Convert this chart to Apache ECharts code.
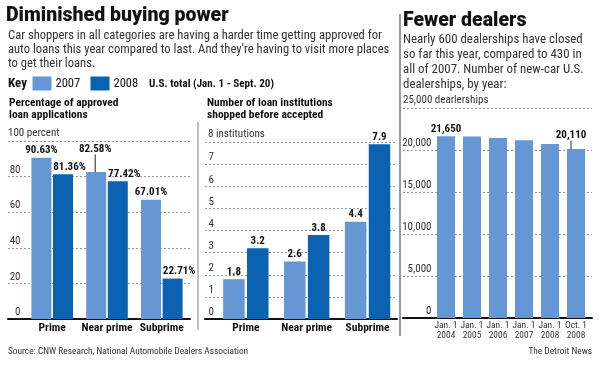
<!DOCTYPE html>
<html><head><meta charset="utf-8">
<script src="https://cdn.jsdelivr.net/npm/echarts/dist/echarts.min.js"></script>
<style>html,body{margin:0;padding:0;background:#fff}#c{width:600px;height:369px}</style>
</head><body><div id="c"></div>
<script>
// ---- data ----
const categories = ['Prime', 'Near prime', 'Subprime'];
const approval2007 = [90.63, 82.58, 67.01];
const approval2008 = [81.36, 77.42, 22.71];
const shopped2007 = [1.8, 2.6, 4.4];
const shopped2008 = [3.2, 3.8, 7.9];
const dealerDates = ['Jan. 1\n2004', 'Jan. 1\n2005', 'Jan. 1\n2006', 'Jan. 1\n2007', 'Jan. 1\n2008', 'Oct. 1\n2008'];
const dealerCounts = [21650, 21600, 21420, 21150, 20720, 20110];
const dealerLabelledIdx = [0, 5];
const seriesNames = ['2007', '2008'];
const axisTopLabels = ['100 percent', '8 institutions', '25,000 dearlerships'];
const axisMax = [100, 8, 25000];
const axisStep = [20, 1, 5000];

// ---- style ----
const NARROW = "'Liberation Sans Narrow', 'Roboto Condensed', 'Roboto', sans-serif";
const HEAVY = "'Roboto', 'Lato', sans-serif";
const LIGHT = '#6497d3';
const DARK = '#0a62b0';
const INK = '#111';

const chart = echarts.init(document.getElementById('c'), null, {renderer: 'canvas'});

function frameY(i, gridIndex, margin, nameX) {
  return {
    type: 'value', gridIndex, min: 0, max: axisMax[i], interval: axisStep[i],
    axisLine: {show: false}, axisTick: {show: false},
    splitLine: {show: true, lineStyle: {color: '#9a9a9a', width: 1, type: [2, 2]}},
    axisLabel: {inside: true, align: 'right', verticalAlign: 'bottom', margin, showMaxLabel: false,
      color: '#333', fontFamily: NARROW, fontSize: 11, padding: [0, 0, 1, 0],
      formatter: v => v.toLocaleString('en-US')},
    name: axisTopLabels[i], nameLocation: 'end', nameGap: 1,
    nameTextStyle: {align: 'left', verticalAlign: 'bottom', color: '#333', fontFamily: NARROW, fontSize: 11, padding: [0, 0, 1, nameX]}
  };
}
function frameX(gridIndex) {
  return {type: 'value', gridIndex, min: 0, max: 1, axisLine: {show: true, onZero: false, lineStyle: {color: INK, width: 2}},
    axisTick: {show: false}, axisLabel: {show: false}, splitLine: {show: false}};
}
function barX(gridIndex, data, opts) {
  return Object.assign({type: 'category', gridIndex, data, axisLine: {show: false}, axisTick: {show: false},
    axisLabel: {margin: 3, color: INK, fontFamily: NARROW, fontSize: 11.5, fontWeight: 'bold', interval: 0}}, opts || {});
}
function barY(gridIndex, i) {
  return {type: 'value', gridIndex, min: 0, max: axisMax[i], interval: axisStep[i], show: false};
}
const valLabel = (fmt, dx) => ({show: true, position: 'top', distance: 1.5, offset: [dx || 0, 0],
  color: INK, fontFamily: NARROW, fontSize: 11, fontWeight: 'bold', formatter: p => fmt(p.value)});
const guide = {show: true, lineStyle: {color: '#222', width: 1}};

const pct = v => v.toFixed(2) + '%';
const one = v => v.toFixed(1);

const option = {
  animation: false,
  textStyle: {fontFamily: NARROW},
  title: [
    {text: 'Diminished buying power', left: 6, top: 6, padding: 0,
      textStyle: {fontFamily: HEAVY, fontWeight: 900, fontSize: 19.5, lineHeight: 21, color: INK}},
    {text: 'Car shoppers in all categories are having a harder time getting approved for\nauto loans this year compared to last. And they\u2019re having to visit more places\nto get their loans.',
      left: 8, top: 28.5, padding: 0,
      textStyle: {fontFamily: NARROW, fontWeight: 'normal', fontSize: 12.6, lineHeight: 14.3, color: '#333'}},
    {text: 'Fewer dealers', left: 403, top: 11, padding: 0,
      textStyle: {fontFamily: HEAVY, fontWeight: 900, fontSize: 19.5, lineHeight: 21, color: INK}},
    {text: 'Nearly 600 dealerships have closed\nso far this year, compared to 430 in\nall of 2007. Number of new-car U.S.\ndealerships, by year:',
      left: 403, top: 32.5, padding: 0,
      textStyle: {fontFamily: NARROW, fontWeight: 'normal', fontSize: 12.9, lineHeight: 15, color: '#333'}},
    {text: 'Key', left: 8, top: 77, padding: 0,
      textStyle: {fontFamily: NARROW, fontWeight: 'bold', fontSize: 13, lineHeight: 14, color: INK}},
    {text: 'U.S. total (Jan. 1 - Sept. 20)', left: 149, top: 77, padding: 0,
      textStyle: {fontFamily: NARROW, fontWeight: 'bold', fontSize: 11.1, lineHeight: 14, color: INK}},
    {text: 'Percentage of approved\nloan applications', left: 9, top: 97.5, padding: 0,
      textStyle: {fontFamily: NARROW, fontWeight: 'bold', fontSize: 11.5, lineHeight: 11.5, color: INK}},
    {text: 'Number of loan institutions\nshopped before accepted', left: 207, top: 97.5, padding: 0,
      textStyle: {fontFamily: NARROW, fontWeight: 'bold', fontSize: 11.5, lineHeight: 11.5, color: INK}},
    {text: 'Source: CNW Research, National Automobile Dealers Association', left: 8, top: 346, padding: 0,
      textStyle: {fontFamily: NARROW, fontWeight: 'normal', fontSize: 9.4, lineHeight: 12, color: '#333'}},
    {text: 'The Detroit News', right: 8, top: 346, padding: 0,
      textStyle: {fontFamily: NARROW, fontWeight: 'normal', fontSize: 9.4, lineHeight: 12, color: '#333'}}
  ],
  legend: [
    {data: [seriesNames[0]], left: 32.5, top: 76.5, padding: 0, itemWidth: 19, itemHeight: 14, itemGap: 0, icon: 'rect',
      textStyle: {fontFamily: NARROW, fontSize: 12.5, color: INK, padding: [0, 0, 0, -1]}, selectedMode: false},
    {data: [seriesNames[1]], left: 90.5, top: 76.5, padding: 0, itemWidth: 19, itemHeight: 14, itemGap: 0, icon: 'rect',
      textStyle: {fontFamily: NARROW, fontSize: 12.5, color: INK, padding: [0, 0, 0, -1]}, selectedMode: false}
  ],
  grid: [
    {left: 8, top: 141, width: 182, height: 178},
    {left: 24.8, top: 141, width: 164.4, height: 178},
    {left: 205, top: 142, width: 192, height: 177},
    {left: 215.4, top: 142, width: 182.6, height: 177},
    {left: 403, top: 108, width: 189, height: 210},
    {left: 433, top: 108, width: 156, height: 210}
  ],
  xAxis: [
    frameX(0),
    barX(1, categories),
    frameX(2),
    barX(3, categories),
    frameX(4),
    barX(5, dealerDates, {axisLabel: {margin: 2, color: '#333', fontFamily: NARROW, fontSize: 9.4, lineHeight: 10.5, interval: 0}})
  ],
  yAxis: [
    frameY(0, 0, 12.5, 0),
    barY(1, 0),
    frameY(1, 2, 9, 3),
    barY(3, 1),
    frameY(2, 4, 28.5, 0),
    barY(5, 2)
  ],
  series: [
    {name: seriesNames[0], type: 'bar', xAxisIndex: 1, yAxisIndex: 1, barWidth: 20, barGap: '8%', itemStyle: {color: LIGHT},
      data: approval2007.map((v, i) => ({value: v, labelLine: {show: i === 1, lineStyle: guide.lineStyle}})),
      label: valLabel(pct), labelLine: {show: false, lineStyle: guide.lineStyle},
      labelLayout: p => p.dataIndex === 1 ? {dy: -16, dx: -1} : null},
    {name: seriesNames[1], type: 'bar', xAxisIndex: 1, yAxisIndex: 1, barWidth: 20, barGap: '8%', itemStyle: {color: DARK},
      data: approval2008, label: valLabel(pct, 6.5)},
    {name: seriesNames[0], type: 'bar', xAxisIndex: 3, yAxisIndex: 3, barWidth: 21.5, barGap: '11%', itemStyle: {color: LIGHT},
      data: shopped2007, label: valLabel(one)},
    {name: seriesNames[1], type: 'bar', xAxisIndex: 3, yAxisIndex: 3, barWidth: 21.5, barGap: '11%', itemStyle: {color: DARK},
      data: shopped2008, label: valLabel(one)},
    {name: 'Dealerships', type: 'bar', xAxisIndex: 5, yAxisIndex: 5, barWidth: 18, itemStyle: {color: LIGHT},
      data: dealerCounts.map((v, i) => ({value: v,
        label: {show: dealerLabelledIdx.includes(i)},
        labelLine: {show: i === dealerCounts.length - 1, lineStyle: guide.lineStyle}})),
      label: Object.assign(valLabel(v => v.toLocaleString('en-US')), {show: false}),
      labelLayout: p => p.dataIndex === dealerCounts.length - 1 ? {dy: -7, dx: -5} : null}
  ],
  graphic: [
    {type: 'line', shape: {x1: 198, y1: 122, x2: 198, y2: 330}, style: {stroke: '#aaa', lineWidth: 1.5}, silent: true},
    {type: 'line', shape: {x1: 400, y1: 14, x2: 400, y2: 336}, style: {stroke: '#999', lineWidth: 2}, silent: true}
  ]
};
chart.setOption(option);
</script></body></html>
